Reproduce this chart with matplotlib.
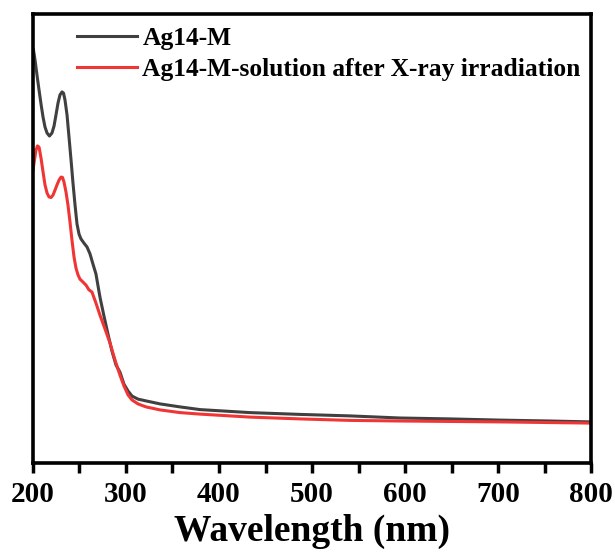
import matplotlib
matplotlib.use("Agg")
import matplotlib.pyplot as plt

plt.rcParams['font.family'] = ['Liberation Serif', 'DejaVu Serif']
plt.rcParams['font.weight'] = 'bold'

# Absorption spectra (arbitrary absorbance units)
wl_pristine = [200.5, 202.2, 204.3, 206.5, 208.6, 210.8, 212.9, 215.1, 217.7, 220.4,
               222.6, 224.7, 226.9, 229.0, 231.2, 232.8, 234.4, 236.6, 238.7, 240.9,
               243.0, 245.2, 247.3, 249.5, 251.6, 254.8, 258.1, 261.3, 264.5, 267.7,
               272.0, 276.3, 280.6, 284.9, 289.2, 293.5, 297.8, 302.2, 306.5, 312.9,
               321.5, 336.6, 358.1, 379.6, 433.3, 487.1, 540.9, 594.6, 648.4, 702.2,
               755.9, 800]
abs_pristine = [1.377, 1.343, 1.293, 1.243, 1.197, 1.153, 1.12, 1.10, 1.09, 1.10,
                1.123, 1.16, 1.20, 1.227, 1.237, 1.233, 1.21, 1.16, 1.087, 1.01,
                0.933, 0.86, 0.797, 0.763, 0.747, 0.733, 0.72, 0.697, 0.663, 0.63,
                0.553, 0.49, 0.43, 0.373, 0.327, 0.303, 0.263, 0.24, 0.223, 0.213,
                0.207, 0.197, 0.187, 0.178, 0.168, 0.162, 0.157, 0.15, 0.147, 0.143,
                0.14, 0.137]

wl_irradiated = [200, 201.6, 203.2, 204.8, 206.5, 208.6, 210.8, 212.9, 215.1, 217.2,
                 219.4, 221.5, 223.7, 225.8, 228.0, 230.1, 231.7, 233.3, 235.5, 237.6,
                 239.8, 241.9, 244.1, 246.2, 248.4, 250.5, 253.8, 257.0, 260.2, 263.4,
                 267.7, 272.0, 277.4, 282.8, 288.2, 293.5, 297.8, 302.2, 306.5, 312.9,
                 321.5, 336.6, 358.1, 379.6, 433.3, 487.1, 540.9, 594.6, 702.2, 800]
abs_irradiated = [0.977, 1.01, 1.043, 1.057, 1.053, 1.017, 0.97, 0.927, 0.90, 0.887,
                  0.885, 0.893, 0.91, 0.927, 0.943, 0.953, 0.952, 0.937, 0.903, 0.86,
                  0.803, 0.743, 0.687, 0.65, 0.627, 0.613, 0.603, 0.593, 0.577, 0.57,
                  0.533, 0.493, 0.447, 0.40, 0.343, 0.293, 0.257, 0.227, 0.21, 0.197,
                  0.187, 0.177, 0.168, 0.163, 0.153, 0.147, 0.142, 0.14, 0.137, 0.133]

series_labels = ["Ag14-M", "Ag14-M-solution after X-ray irradiation"]
x_ticks = [200, 300, 400, 500, 600, 700, 800]

fig = plt.figure(figsize=(6.15, 5.57), dpi=100)
ax = fig.add_axes([33 / 615, 94 / 557, 558 / 615, 449 / 557])

ax.plot(wl_pristine, abs_pristine, color='#404040', lw=2.2,
        solid_joinstyle='round', label=series_labels[0])
ax.plot(wl_irradiated, abs_irradiated, color='#f03535', lw=2.2,
        solid_joinstyle='round', label=series_labels[1])

ax.set_xlim(200, 800)
ax.set_ylim(0, 1.4967)
ax.set_xticks(x_ticks)
ax.set_xticks(range(250, 800, 100), minor=True)
ax.set_yticks([])
ax.tick_params(axis='x', which='both', direction='out', length=7, width=2.5,
               labelsize=21, pad=6, top=False)
for lbl in ax.get_xticklabels():
    lbl.set_fontweight('bold')
for sp in ax.spines.values():
    sp.set_linewidth(2.6)

ax.set_xlabel("Wavelength (nm)", fontsize=27, fontweight='bold', labelpad=4)

leg = ax.legend(loc='upper left', bbox_to_anchor=(0.047, 1.012), frameon=False,
                prop={'size': 18.4, 'weight': 'bold'}, handlelength=2.33,
                handletextpad=0.22, labelspacing=0.33, borderaxespad=0.3)

fig.savefig("out.png", dpi=100)
